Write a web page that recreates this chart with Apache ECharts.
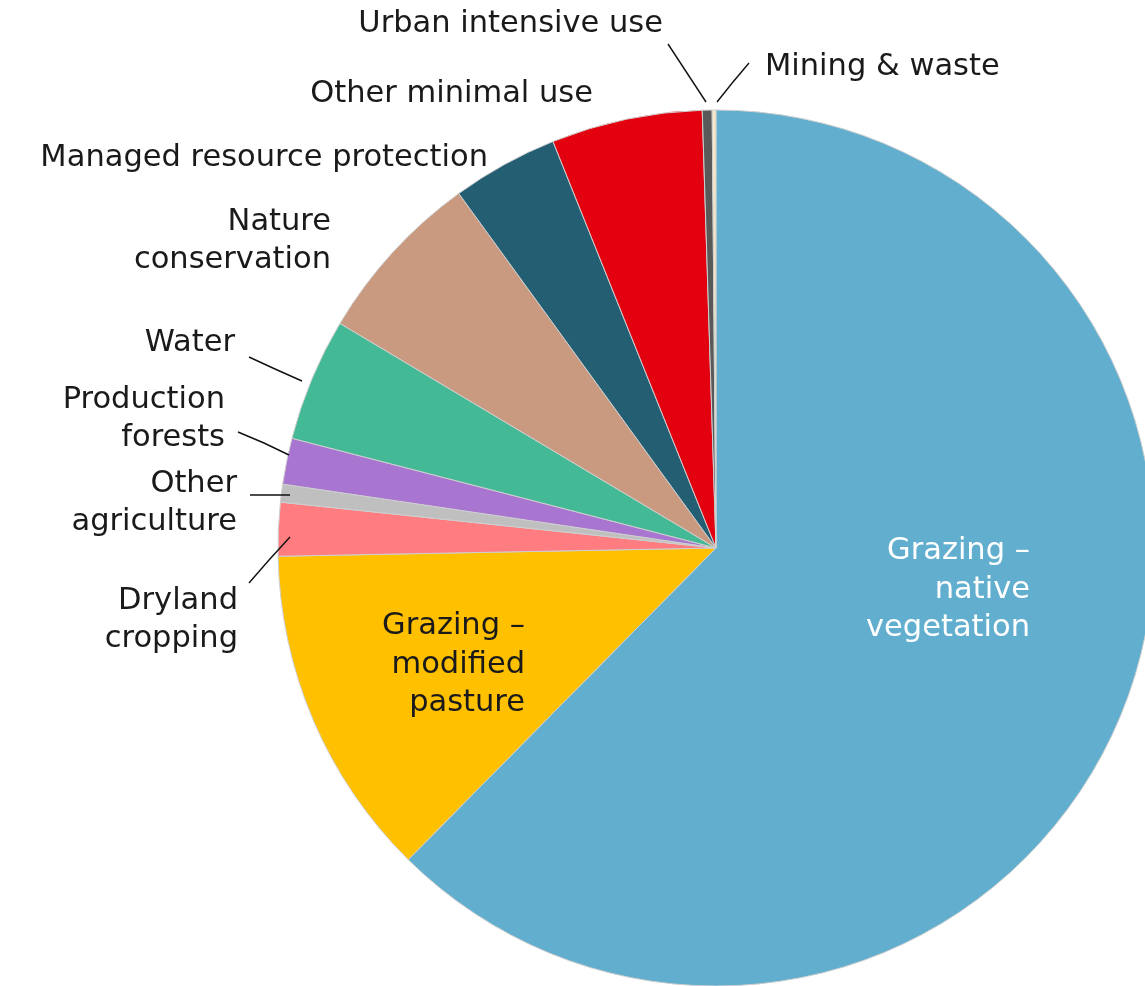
<!DOCTYPE html>
<html>
<head>
<meta charset="utf-8">
<title>Land use</title>
<script src="https://cdn.jsdelivr.net/npm/echarts@6/dist/echarts.min.js"></script>
<style>
  html, body { margin: 0; padding: 0; background: #ffffff; }
  #chart { width: 1145px; height: 986px; }
</style>
</head>
<body>
<div id="chart"></div>
<script>
// Land use categories, in clockwise order from 12 o'clock
const categories = [
  'Grazing –\nnative\nvegetation',
  'Grazing –\nmodified\npasture',
  'Dryland\ncropping',
  'Other\nagriculture',
  'Production\nforests',
  'Water',
  'Nature\nconservation',
  'Managed resource protection',
  'Other minimal use',
  'Urban intensive use',
  'Mining & waste'
];

// Share of total area (%)
const shares = [62.4, 12.3, 1.97, 0.66, 1.7, 4.54, 6.44, 3.92, 5.57, 0.36, 0.14];

const colors = [
  '#61AECE', '#FFC000', '#FF7C80', '#BFBFBF', '#A875D0', '#43B996',
  '#CA9A80', '#235E72', '#E3000F', '#595959', '#F3E8C8'
];

// Where each label sits, and the leader line (if any) joining it to its slice
const labelPlacement = [
  { x: 1030, y: 590, align: 'right', color: '#ffffff' },
  { x: 525, y: 665, align: 'right' },
  { x: 238, y: 620, align: 'right', line: [[249, 583], [269, 560], [290, 537]] },
  { x: 237, y: 503, align: 'right', line: [[250, 495], [270, 495], [290, 495]] },
  { x: 225, y: 419, align: 'right', line: [[238, 432], [264, 443], [289, 455]] },
  { x: 235, y: 343, align: 'right', line: [[249, 357], [275, 369], [302, 381]] },
  { x: 331, y: 241, align: 'right' },
  { x: 488, y: 158, align: 'right' },
  { x: 593, y: 94, align: 'right' },
  { x: 663, y: 24, align: 'right', line: [[668, 44], [687, 73], [706, 102]] },
  { x: 765, y: 67, align: 'left', line: [[749, 63], [733, 82], [717, 102]] }
];

const FONT = '"DejaVu Sans", "Noto Sans", sans-serif';
const CENTER = [716, 548];
const RADIUS = 438;

// Coloured slices
const sliceData = categories.map((name, i) => ({
  name: name,
  value: shares[i],
  itemStyle: { color: colors[i] }
}));

// Same slices again, unfilled, carrying the labels and leader lines above the fills
const labelData = categories.map((name, i) => ({
  name: name,
  value: shares[i],
  label: {
    show: true,
    position: i < 2 ? 'inside' : 'outside',
    color: labelPlacement[i].color || '#1a1a1a'
  },
  labelLine: { show: !!labelPlacement[i].line }
}));

const chart = echarts.init(document.getElementById('chart'), null, { renderer: 'canvas' });

chart.setOption({
  backgroundColor: '#ffffff',
  animation: false,
  series: [{
    type: 'pie',
    z: 2,
    center: CENTER,
    radius: RADIUS,
    startAngle: 90,
    clockwise: true,
    minAngle: 0,
    data: sliceData,
    itemStyle: { borderColor: '#cfcfcf', borderWidth: 1 },
    label: { show: false },
    labelLine: { show: false },
    emphasis: { disabled: true },
    silent: true
  }, {
    type: 'pie',
    z: 3,
    center: CENTER,
    radius: RADIUS,
    startAngle: 90,
    clockwise: true,
    minAngle: 0,
    avoidLabelOverlap: false,
    data: labelData,
    itemStyle: { color: 'rgba(0,0,0,0)', borderWidth: 0 },
    label: {
      formatter: '{b}',
      fontFamily: FONT,
      fontSize: 30.5,
      lineHeight: 38.5,
      color: '#1a1a1a'
    },
    labelLine: {
      lineStyle: { color: '#111111', width: 1.4 }
    },
    labelLayout: function (params) {
      const p = labelPlacement[params.dataIndex];
      const out = { x: p.x, y: p.y, align: p.align, verticalAlign: 'middle' };
      if (p.line) out.labelLinePoints = p.line;
      return out;
    },
    emphasis: { disabled: true },
    silent: true
  }]
});
</script>
</body>
</html>
